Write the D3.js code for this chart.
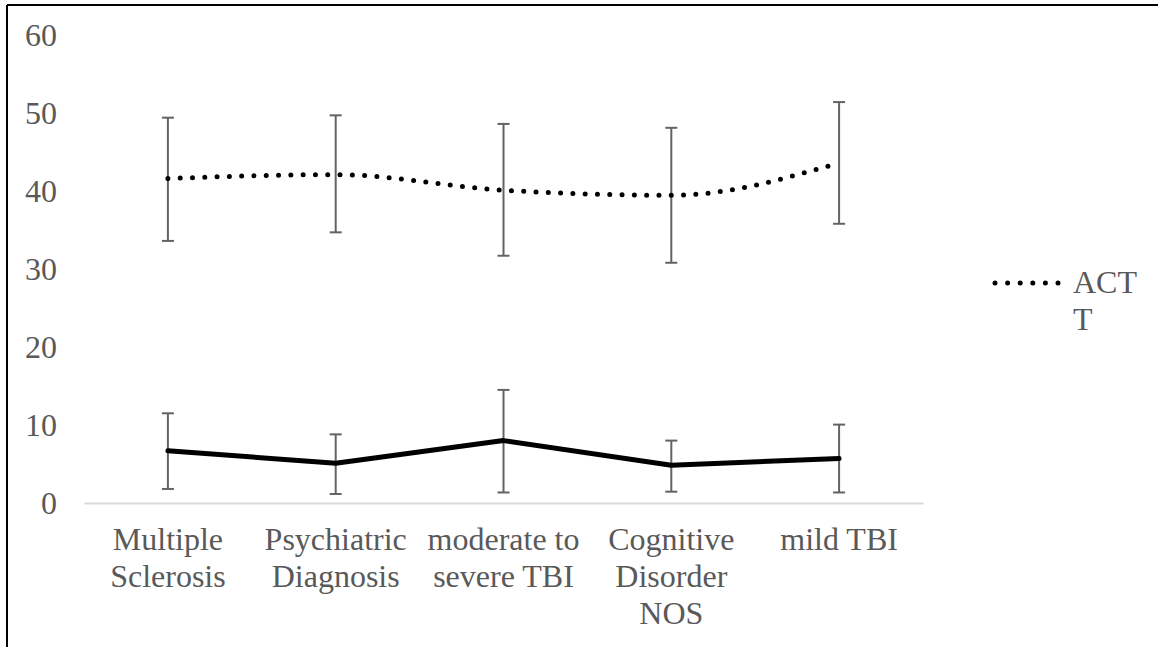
<!DOCTYPE html>
<html>
<head>
<meta charset="utf-8">
<script src="https://cdn.jsdelivr.net/npm/d3@7"></script>
<style>
  html, body { margin: 0; padding: 0; background: #fff; }
  svg { display: block; }
</style>
</head>
<body>
<svg id="chart" width="1158" height="647"></svg>
<script>
// Diagnostic groups along the x axis
const categories = ["Multiple Sclerosis", "Psychiatric Diagnosis", "moderate to severe TBI", "Cognitive Disorder NOS", "mild TBI"];

// ACT T series (dotted, smoothed): mean and error bar ends
const actMean = [41.6, 42.1, 40.1, 39.45, 43.6];
const actHigh = [49.4, 49.7, 48.6, 48.1, 51.4];
const actLow  = [33.6, 34.7, 31.7, 30.8, 35.8];

// Second series (solid): mean and error bar ends
const otherMean = [6.7, 5.1, 8.0, 4.85, 5.7];
const otherHigh = [11.5, 8.8, 14.5, 8.0, 10.05];
const otherLow  = [1.8, 1.15, 1.35, 1.45, 1.35];

const yTicks = [0, 10, 20, 30, 40, 50, 60];
const legendLines = ["ACT", "T"];

const FONT = "'Liberation Serif', 'Times New Roman', Times, serif";
const TEXT_COLOR = "#595959";
const fontSize = 32;

const svg = d3.select("#chart");

// frame lines along the top and left edges
svg.append("line").attr("x1", 7).attr("x2", 1158).attr("y1", 5).attr("y2", 5)
  .attr("stroke", "#000").attr("stroke-width", 2);
svg.append("line").attr("x1", 7).attr("x2", 7).attr("y1", 5).attr("y2", 647)
  .attr("stroke", "#000").attr("stroke-width", 2);

const x = d3.scaleBand().domain(categories).range([84, 923]).padding(0);
const y = d3.scaleLinear().domain([0, 60]).range([503, 35]);
const cx = c => x(c) + x.bandwidth() / 2;

function styleText(sel) {
  sel.style("font-family", FONT).style("font-size", fontSize + "px").style("fill", TEXT_COLOR);
}

// y axis labels only (no axis line)
const yAxis = d3.axisLeft(y).tickValues(yTicks).tickSize(0).tickPadding(0);
const yg = svg.append("g").attr("transform", "translate(57,0)").call(yAxis);
yg.select(".domain").remove();
yg.selectAll("text").call(styleText);

// category axis line
const xAxis = d3.axisBottom(x).tickSize(0).tickFormat("");
const xg = svg.append("g").attr("transform", `translate(0,${y(0)})`).call(xAxis);
xg.select(".domain").attr("stroke", "#d9d9d9").attr("stroke-width", 2);

// wrapped category labels
const labelG = svg.append("g");
categories.forEach(c => {
  const t = labelG.append("text")
    .attr("text-anchor", "middle")
    .attr("x", cx(c)).attr("y", 550)
    .call(styleText);
  const words = c.split(" ");
  let line = [];
  let lineNo = 0;
  let tspan = t.append("tspan").attr("x", cx(c)).attr("y", 550);
  words.forEach(w => {
    line.push(w);
    tspan.text(line.join(" "));
    if (tspan.node().getComputedTextLength() > x.bandwidth() - 4 && line.length > 1) {
      line.pop();
      tspan.text(line.join(" "));
      line = [w];
      lineNo++;
      tspan = t.append("tspan").attr("x", cx(c)).attr("y", 550 + lineNo * 37).text(w);
    }
  });
});

// error bars
function errorBars(high, low) {
  const g = svg.append("g").attr("stroke", "#636363").attr("stroke-width", 2);
  categories.forEach((c, i) => {
    const xc = cx(c);
    g.append("line").attr("x1", xc).attr("x2", xc).attr("y1", y(high[i])).attr("y2", y(low[i]));
    g.append("line").attr("x1", xc - 6).attr("x2", xc + 6).attr("y1", y(high[i])).attr("y2", y(high[i]));
    g.append("line").attr("x1", xc - 6).attr("x2", xc + 6).attr("y1", y(low[i])).attr("y2", y(low[i]));
  });
}
errorBars(actHigh, actLow);
errorBars(otherHigh, otherLow);

// solid series
const straight = d3.line().x((d, i) => cx(categories[i])).y(d => y(d));
svg.append("path").datum(otherMean)
  .attr("d", straight)
  .attr("fill", "none").attr("stroke", "#000").attr("stroke-width", 5)
  .attr("stroke-linejoin", "round").attr("stroke-linecap", "round");

// dotted smoothed series
const smooth = d3.line().x((d, i) => cx(categories[i])).y(d => y(d)).curve(d3.curveMonotoneX);
svg.append("path").datum(actMean)
  .attr("d", smooth)
  .attr("fill", "none").attr("stroke", "#000").attr("stroke-width", 5)
  .attr("stroke-linecap", "round").attr("stroke-dasharray", "0 12.3");

// legend
const lg = svg.append("g");
lg.append("line").attr("x1", 995).attr("x2", 1060).attr("y1", 283).attr("y2", 283)
  .attr("stroke", "#000").attr("stroke-width", 5)
  .attr("stroke-linecap", "round").attr("stroke-dasharray", "0 12.6");
lg.selectAll("text.leg").data(legendLines).join("text")
  .attr("class", "leg")
  .attr("x", 1073).attr("y", (d, i) => 293 + i * 37)
  .call(styleText)
  .text(d => d);
</script>
</body>
</html>
